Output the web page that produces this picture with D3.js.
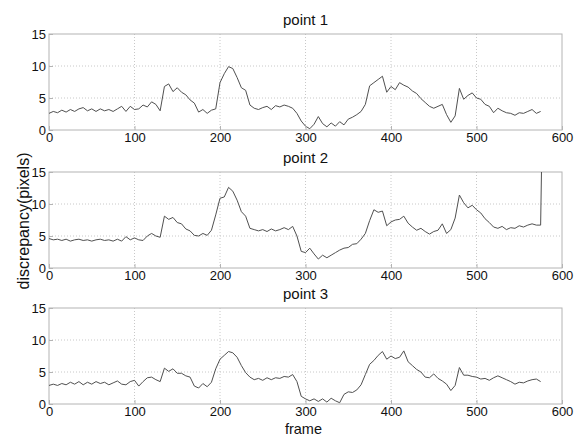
<!DOCTYPE html>
<html>
<head>
<meta charset="utf-8">
<script src="https://cdn.jsdelivr.net/npm/d3@7"></script>
<style>
  body { margin: 0; background: #fff; }
  text { font-family: "Liberation Sans", Arial, sans-serif; fill: #111; }
</style>
</head>
<body>
<svg id="chart" width="582" height="437"></svg>
<script>
// frame index of every sample (one sample every 5 frames)
const frames = d3.range(0, 580, 5);

const titles = ["point 1", "point 2", "point 3"];
const xTicks = [0, 100, 200, 300, 400, 500, 600];
const yTicks = [0, 5, 10, 15];

const point1 = [
  2.6, 2.9, 2.7, 3.1, 2.8, 3.2, 2.9, 3.3, 3.5, 3.0, 3.3, 2.9, 3.3, 3.0, 3.2, 2.9, 3.3, 3.7, 2.9, 3.7,
  3.2, 3.3, 3.9, 3.6, 4.4, 4.0, 3.0, 6.8, 7.2, 6.0, 6.6, 5.9, 5.5, 4.7, 4.2, 2.8, 3.2, 2.6, 3.1, 3.3,
  7.4, 8.8, 9.9, 9.6, 8.2, 6.6, 6.2, 3.9, 3.4, 3.2, 3.5, 3.7, 3.2, 3.8, 3.6, 3.9, 3.7, 3.4, 2.6, 1.4,
  0.6, 0.2, 0.9, 2.1, 1.0, 0.5, 1.1, 0.6, 1.3, 0.8, 1.7, 2.0, 2.4, 2.9, 4.0, 6.9, 7.4, 7.9, 8.4, 5.9,
  6.8, 6.3, 7.4, 7.0, 6.7, 6.1, 5.7, 4.9, 4.3, 3.7, 3.4, 3.7, 4.0, 2.4, 1.2, 2.2, 6.5, 4.8, 5.4, 5.8,
  5.0, 4.8, 4.0, 3.7, 2.7, 3.4, 3.0, 2.7, 2.6, 2.3, 2.7, 2.6, 2.9, 3.2, 2.6, 2.9
];

const point2 = [
  4.6, 4.4, 4.5, 4.3, 4.5, 4.2, 4.4, 4.5, 4.3, 4.4, 4.2, 4.4, 4.5, 4.3, 4.4, 4.2, 4.5, 4.2, 4.9, 4.4,
  4.7, 4.4, 4.3, 5.0, 5.4, 5.0, 4.8, 8.1, 7.6, 7.9, 7.1, 6.9, 6.1, 5.8, 5.1, 5.0, 5.4, 5.1, 5.9, 8.3,
  10.9, 11.1, 12.6, 12.0, 10.6, 8.8, 8.1, 6.2, 6.0, 5.8, 6.0, 5.7, 6.1, 5.8, 6.0, 6.3, 6.0, 6.5, 5.0, 2.6,
  2.4, 3.1, 2.2, 1.4, 2.0, 1.6, 2.0, 2.4, 2.8, 3.1, 3.2, 3.7, 3.8, 4.5, 5.4, 7.4, 9.1, 8.7, 8.9, 6.6,
  7.2, 7.5, 7.6, 8.1, 7.0, 6.4, 5.9, 6.2, 5.7, 5.3, 5.7, 5.9, 6.9, 5.4, 6.0, 7.8, 11.4, 10.2, 9.4, 9.8,
  9.1, 8.6, 7.7, 7.1, 6.4, 6.2, 6.5, 6.0, 6.3, 6.2, 6.6, 6.4, 6.7, 6.9, 6.7, 6.7
];
// point 2 ends with a jump at the last frame
const point2LastFrame = 576;
const point2LastValue = 15;

const point3 = [
  2.9, 3.1, 2.9, 3.2, 3.0, 3.4, 3.1, 3.5, 3.0, 3.4, 3.1, 3.5, 3.2, 3.4, 3.0, 3.3, 3.6, 3.1, 3.0, 3.5,
  3.7, 2.8, 3.5, 4.1, 4.2, 3.8, 3.5, 5.6, 5.1, 5.5, 4.8, 4.8, 4.4, 4.2, 2.8, 2.5, 3.2, 2.7, 3.4, 5.5,
  7.0, 7.6, 8.2, 8.0, 7.3, 6.0, 4.9, 4.2, 3.8, 4.0, 3.7, 4.1, 3.8, 4.1, 4.0, 4.3, 4.2, 4.6, 3.5, 1.2,
  0.8, 0.5, 0.8, 0.4, 0.8, 0.3, 0.9, 0.5, 0.2, 1.5, 1.9, 1.8, 2.2, 3.0, 4.6, 6.2, 6.8, 7.6, 8.2, 7.0,
  7.5, 7.1, 7.3, 8.3, 6.6, 6.0, 5.4, 5.0, 4.2, 4.1, 4.7, 4.0, 3.6, 3.1, 2.1, 2.9, 5.7, 4.5, 4.5, 4.3,
  4.2, 3.9, 4.0, 3.7, 4.1, 4.4, 4.1, 3.8, 3.5, 3.1, 3.4, 3.3, 3.6, 3.8, 3.9, 3.5
];

const series = [
  frames.map((f, i) => ({x: f, y: point1[i]})),
  frames.map((f, i) => ({x: f, y: point2[i]})).concat([{x: point2LastFrame, y: point2LastValue}]),
  frames.map((f, i) => ({x: f, y: point3[i]}))
];

const svg = d3.select("#chart");
const left = 49, right = 562;
const panelTops = [34, 172, 308];
const panelHeight = 96;

const x = d3.scaleLinear().domain([0, 600]).range([left, right]);

series.forEach(function(data, k) {
  const top = panelTops[k];
  const y = d3.scaleLinear().domain([0, 15]).range([top + panelHeight, top]);
  const g = svg.append("g");

  // dotted grid
  g.selectAll(".vgrid").data(xTicks.slice(1, -1)).enter().append("line")
    .attr("x1", d => x(d)).attr("x2", d => x(d))
    .attr("y1", top).attr("y2", top + panelHeight)
    .attr("stroke", "#c8c8c8").attr("stroke-dasharray", "1,2");
  g.selectAll(".hgrid").data(yTicks.slice(1, -1)).enter().append("line")
    .attr("x1", left).attr("x2", right)
    .attr("y1", d => y(d)).attr("y2", d => y(d))
    .attr("stroke", "#c8c8c8").attr("stroke-dasharray", "1,2");

  // box
  g.append("rect")
    .attr("x", left).attr("y", top)
    .attr("width", right - left).attr("height", panelHeight)
    .attr("fill", "none").attr("stroke", "#b4b4b4");

  // the curve
  const line = d3.line().x(d => x(d.x)).y(d => y(d.y));
  g.append("path")
    .datum(data)
    .attr("fill", "none")
    .attr("stroke", "#505050")
    .attr("stroke-width", 1)
    .attr("d", line);

  // axes: MATLAB style inward ticks
  const xAxis = d3.axisBottom(x).tickValues(xTicks).tickSize(-4).tickPadding(3);
  const yAxis = d3.axisLeft(y).tickValues(yTicks).tickSize(-4).tickPadding(3);

  const gx = g.append("g")
    .attr("transform", "translate(0," + (top + panelHeight) + ")")
    .call(xAxis);
  const gy = g.append("g")
    .attr("transform", "translate(" + left + ",0)")
    .call(yAxis);

  [gx, gy].forEach(function(a) {
    a.select(".domain").remove();
    a.selectAll(".tick line").attr("stroke", "#b4b4b4");
    a.selectAll(".tick text")
      .attr("font-size", 13)
      .attr("font-family", "Liberation Sans, Arial, sans-serif")
      .attr("fill", "#111");
  });

  svg.append("text")
    .attr("x", (left + right) / 2)
    .attr("y", top - 9)
    .attr("text-anchor", "middle")
    .attr("font-size", 15)
    .text(titles[k]);
});

svg.append("text")
  .attr("x", (left + right) / 2 - 2)
  .attr("y", 433.5)
  .attr("text-anchor", "middle")
  .attr("font-size", 14.5)
  .text("frame");

svg.append("text")
  .attr("transform", "translate(29,221) rotate(-90)")
  .attr("text-anchor", "middle")
  .attr("font-size", 16)
  .text("discrepancy(pixels)");
</script>
</body>
</html>
